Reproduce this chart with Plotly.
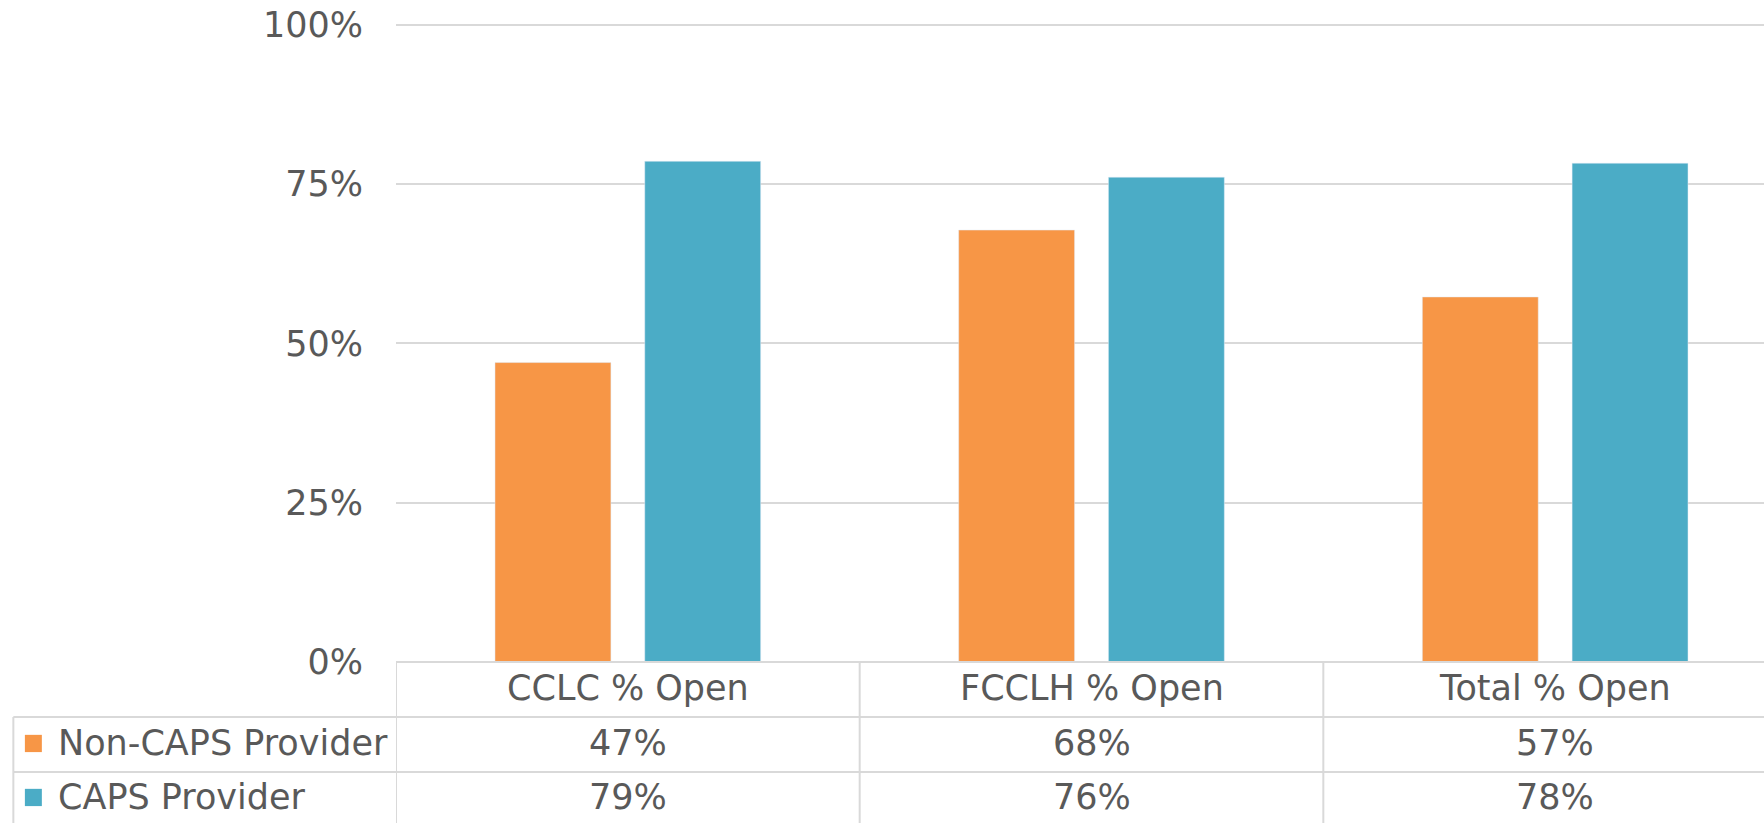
import plotly.graph_objects as go

categories = ["CCLC % Open", "FCCLH % Open", "Total % Open"]
series_names = ["Non-CAPS Provider", "CAPS Provider"]
non_caps = [0.470, 0.678, 0.573]
caps = [0.786, 0.761, 0.783]
y_ticks = [0, 0.25, 0.5, 0.75, 1.0]
y_ticklabels = ["0%", "25%", "50%", "75%", "100%"]

ORANGE = "#F79646"
TEAL = "#4BACC6"
TEXT = "#595959"
GRID = "#D9D9D9"
FONT = "DejaVu Sans"
FS = 35

fig = go.Figure()
fig.add_trace(go.Bar(x=categories, y=non_caps, name=series_names[0],
                     marker=dict(color=ORANGE)))
fig.add_trace(go.Bar(x=categories, y=caps, name=series_names[1],
                     marker=dict(color=TEAL)))

# data table under the plot (paper coords, plot area is 639px tall)
row_y = [-0.0413, -0.1275, -0.212]
line_y = [0, -0.0861, -0.172, -0.27]
left_x = -0.2751

for i, cat in enumerate(categories):
    fig.add_annotation(x=cat, y=row_y[0], xref="x", yref="paper", text=cat,
                       showarrow=False, yanchor="middle",
                       font=dict(family=FONT, size=FS, color=TEXT))
    for r, vals in enumerate([non_caps, caps]):
        fig.add_annotation(x=cat, y=row_y[r + 1], xref="x", yref="paper",
                           text=f"{round(vals[i] * 100)}%", showarrow=False,
                           yanchor="middle",
                           font=dict(family=FONT, size=FS, color=TEXT))

for r, (name, col) in enumerate(zip(series_names, [ORANGE, TEAL])):
    fig.add_shape(type="rect", xref="paper", yref="paper",
                  x0=-0.2668, x1=-0.2546, y0=row_y[r + 1] - 0.0135, y1=row_y[r + 1] + 0.0135,
                  fillcolor=col, line=dict(width=0))
    fig.add_annotation(x=-0.2445, y=row_y[r + 1], xref="paper", yref="paper",
                       text=name, showarrow=False, xanchor="left", yanchor="middle",
                       font=dict(family=FONT, size=FS, color=TEXT))

# table borders
fig.add_shape(type="line", xref="paper", yref="paper", x0=0, x1=1, y0=0, y1=0,
              line=dict(color=GRID, width=2))
for yy in line_y[1:3]:
    fig.add_shape(type="line", xref="paper", yref="paper", x0=left_x, x1=1, y0=yy, y1=yy,
                  line=dict(color=GRID, width=2))
fig.add_shape(type="line", xref="paper", yref="paper", x0=left_x, x1=left_x,
              y0=line_y[1], y1=line_y[3], line=dict(color=GRID, width=2))
for xx in [-0.5, 0.5, 1.5]:
    fig.add_shape(type="line", xref="x", yref="paper", x0=xx, x1=xx, y0=0, y1=line_y[3],
                  line=dict(color=GRID, width=2))

# plot area runs past the right edge of the window, as in the reference
fig.update_layout(
    width=1787, height=823,
    paper_bgcolor="white", plot_bgcolor="white",
    margin=dict(l=396, r=0, t=23, b=161),
    barmode="group", bargap=0.354, bargroupgap=0.226,
    showlegend=False,
    font=dict(family=FONT, size=FS, color=TEXT),
    xaxis=dict(showticklabels=False, showgrid=False, zeroline=False, range=[-0.5, 2.5]),
    yaxis=dict(range=[0, 1.003], tickvals=y_ticks, ticktext=y_ticklabels,
               showgrid=True, gridcolor=GRID, gridwidth=2, zeroline=False,
               ticklabelstandoff=32, tickfont=dict(family=FONT, size=FS, color=TEXT)),
)

fig.write_html("out.html", config={"displayModeBar": False},
               post_script="document.body.style.margin='0';")
